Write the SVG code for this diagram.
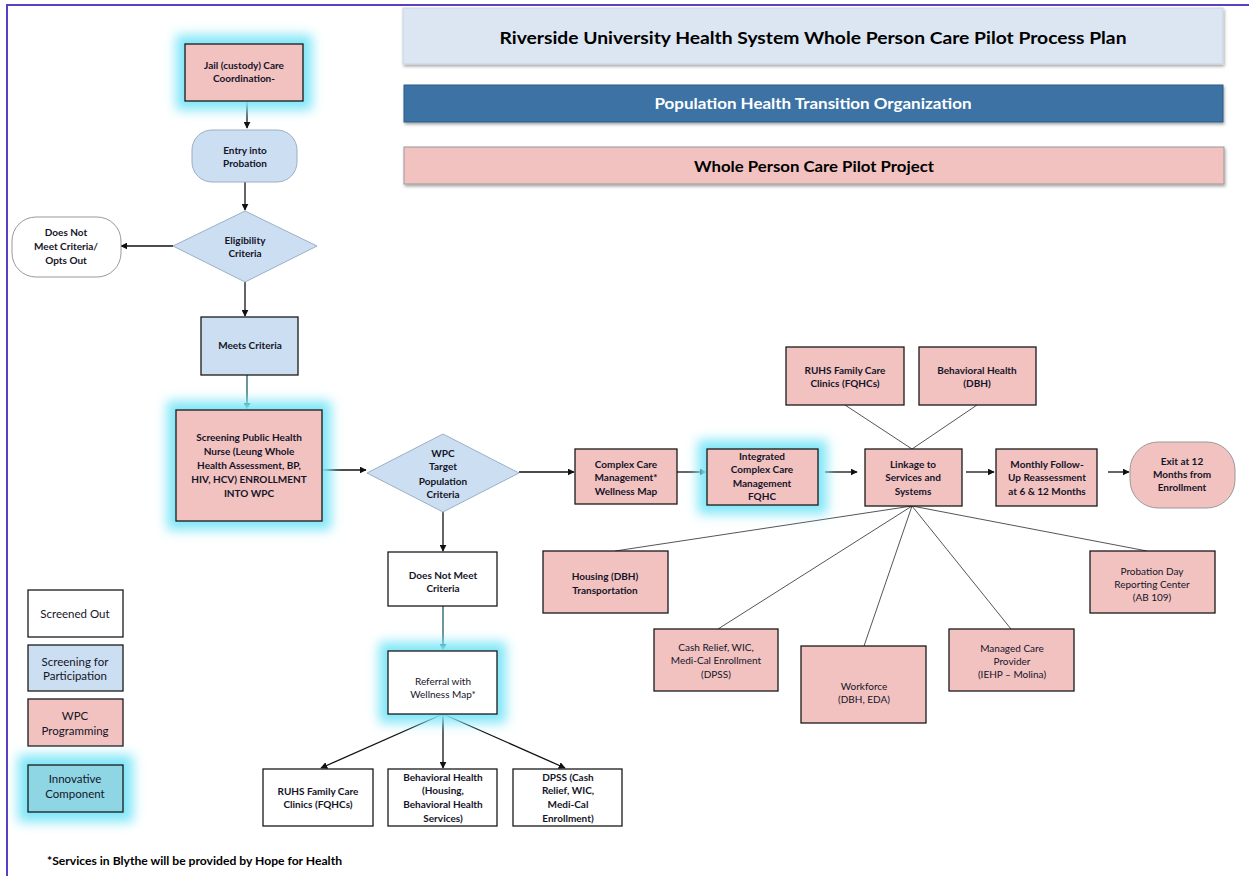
<svg xmlns="http://www.w3.org/2000/svg" width="1249" height="876" viewBox="0 0 1249 876">
<style>
.t{font-family:Lato,"Open Sans","Liberation Sans",sans-serif;font-size:10px;font-weight:bold;fill:#141428;text-anchor:middle}
.l{font-weight:normal}
.lg{font-size:11.5px;font-weight:normal}
.pk{fill:#F2C2C0;stroke:#1a1a1a;stroke-width:1.3}
.bl{fill:#CCDEF1;stroke:#1a1a1a;stroke-width:1.3}
.bd{fill:#CCDEF1;stroke:#9AAFC6;stroke-width:1}
.wh{fill:#fff;stroke:#1a1a1a;stroke-width:1.3}
.wr{fill:#fff;stroke:#999;stroke-width:1}
.tl{fill:#8FD6E4;stroke:#1a1a1a;stroke-width:1.3}
.gl{fill:#7FE6F7;filter:url(#blur)}
.c{stroke:#111;stroke-width:1.3;fill:none;marker-end:url(#ah)}
.ct{stroke:#1f5a66;stroke-width:1.3;fill:none;marker-end:url(#aht)}
.s{stroke:#555;stroke-width:1;fill:none}
</style>
<defs>
<filter id="blur" x="-40%" y="-40%" width="180%" height="180%"><feGaussianBlur stdDeviation="6"/></filter>
<filter id="sh" x="-5%" y="-20%" width="110%" height="160%"><feDropShadow dx="1" dy="2" stdDeviation="1.5" flood-color="#000" flood-opacity="0.35"/></filter>
<marker id="ah" viewBox="0 0 10 10" refX="9" refY="5" markerWidth="7" markerHeight="7" orient="auto" markerUnits="userSpaceOnUse"><path d="M0,0 L10,5 L0,10 z" fill="#111"/></marker>
<marker id="aht" viewBox="0 0 10 10" refX="9" refY="5" markerWidth="7" markerHeight="7" orient="auto" markerUnits="userSpaceOnUse"><path d="M0,0 L10,5 L0,10 z" fill="#1f5a66"/></marker>
</defs>
<rect width="1249" height="876" fill="#fff"/>
<path d="M7,876 V5 H1249" fill="none" stroke="#5a3fc0" stroke-width="2"/>

<g id="header-title"><rect x="403" y="8" width="820" height="56" fill="#DCE6F2" stroke="#C5D3E6" filter="url(#sh)"/><text x="813" y="44" class="t" style="font-size:17px;fill:#000" textLength="627" lengthAdjust="spacingAndGlyphs">Riverside University Health System Whole Person Care Pilot Process Plan</text></g>
<g id="header-pht"><rect x="404" y="85" width="819" height="37" fill="#3E72A5" stroke="#2f5b88" filter="url(#sh)"/><text x="813" y="109" class="t" style="font-size:15px;fill:#fff" textLength="317" lengthAdjust="spacingAndGlyphs">Population Health Transition Organization</text></g>
<g id="header-wpc"><rect x="404" y="147" width="820" height="37" fill="#F2C2C0" stroke="#999" filter="url(#sh)"/><text x="814" y="172" class="t" style="font-size:15px;fill:#000" textLength="240" lengthAdjust="spacingAndGlyphs">Whole Person Care Pilot Project</text></g>

<g id="connectors">
<line class="c" x1="247" y1="101" x2="247" y2="128"/>
<line class="c" x1="245" y1="182" x2="245" y2="210"/>
<line class="c" x1="173" y1="246" x2="121" y2="246"/>
<line class="c" x1="245" y1="282" x2="245" y2="316"/>
<line class="ct" x1="247" y1="375" x2="247" y2="409"/>
<line class="c" x1="322" y1="470" x2="366" y2="470"/>
<line class="c" x1="519" y1="472" x2="574" y2="472"/>
<line class="c" x1="677" y1="472" x2="706" y2="472"/>
<line class="c" x1="825" y1="472" x2="857" y2="472"/>
<line class="c" x1="966" y1="472" x2="994" y2="472"/>
<line class="c" x1="1108" y1="472" x2="1129" y2="472"/>
<line class="c" x1="443" y1="512" x2="443" y2="551"/>
<line class="ct" x1="443" y1="606" x2="443" y2="650"/>
<line class="c" x1="443" y1="714" x2="321" y2="768"/>
<line class="c" x1="443" y1="714" x2="443" y2="768"/>
<line class="c" x1="443" y1="714" x2="565" y2="768"/>
<line class="s" x1="845" y1="405" x2="912" y2="449"/>
<line class="s" x1="977" y1="405" x2="912" y2="449"/>
<line class="s" x1="912" y1="506" x2="615" y2="551"/>
<line class="s" x1="912" y1="506" x2="718" y2="629"/>
<line class="s" x1="912" y1="506" x2="864" y2="646"/>
<line class="s" x1="912" y1="506" x2="1011" y2="629"/>
<line class="s" x1="912" y1="506" x2="1147" y2="551"/>
</g>

<g id="n-jail"><rect class="gl" x="176" y="35" width="136" height="75"/><rect class="pk" x="185" y="44" width="118" height="57"/><text class="t" x="244" y="69">Jail (custody) Care</text><text class="t" x="244" y="82">Coordination-</text></g>
<g id="n-entry"><rect class="bd" x="192" y="130" width="105" height="52" rx="20"/><text class="t" x="245" y="154">Entry into</text><text class="t" x="245" y="167">Probation</text></g>
<g id="n-elig"><polygon class="bd" points="245,211 317,246 245,282 173,246"/><text class="t" x="245" y="244">Eligibility</text><text class="t" x="245" y="257">Criteria</text></g>
<g id="n-optout"><rect class="wr" x="12" y="217" width="109" height="60" rx="24"/><text class="t" x="66" y="236">Does Not</text><text class="t" x="66" y="250">Meet Criteria/</text><text class="t" x="66" y="264">Opts Out</text></g>
<g id="n-meets"><rect class="bl" x="201" y="317" width="97" height="58"/><text class="t" x="250" y="349">Meets Criteria</text></g>
<g id="n-screen"><rect class="gl" x="167" y="401" width="164" height="129"/><rect class="pk" x="176" y="410" width="146" height="111"/><text class="t" x="249" y="441">Screening Public Health</text><text class="t" x="249" y="455">Nurse (Leung Whole</text><text class="t" x="249" y="469">Health Assessment, BP,</text><text class="t" x="249" y="483">HIV, HCV) ENROLLMENT</text><text class="t" x="249" y="497">INTO WPC</text></g>
<g id="n-target"><polygon class="bd" points="443,434 519,473 443,512 367,473"/><text class="t" x="443" y="457">WPC</text><text class="t" x="443" y="470">Target</text><text class="t" x="443" y="485">Population</text><text class="t" x="443" y="498">Criteria</text></g>
<g id="n-ccm"><rect class="pk" x="575" y="449" width="102" height="55"/><text class="t" x="626" y="468">Complex Care</text><text class="t" x="626" y="481">Management*</text><text class="t" x="626" y="495">Wellness Map</text></g>
<g id="n-iccm"><rect class="gl" x="698" y="440" width="129" height="74"/><rect class="pk" x="707" y="449" width="111" height="56"/><text class="t" x="762" y="460">Integrated</text><text class="t" x="762" y="473">Complex Care</text><text class="t" x="762" y="487">Management</text><text class="t" x="762" y="500">FQHC</text></g>
<g id="n-link"><rect class="pk" x="865" y="449" width="97" height="57"/><text class="t" x="913" y="468">Linkage to</text><text class="t" x="913" y="481">Services and</text><text class="t" x="913" y="495">Systems</text></g>
<g id="n-monthly"><rect class="pk" x="996" y="449" width="101" height="57"/><text class="t" x="1047" y="468">Monthly Follow-</text><text class="t" x="1047" y="481">Up Reassessment</text><text class="t" x="1047" y="495">at 6 &amp; 12 Months</text></g>
<g id="n-exit"><rect x="1130" y="442" width="105" height="66" rx="28" fill="#F2C2C0" stroke="#999"/><text class="t" x="1182" y="465">Exit at 12</text><text class="t" x="1182" y="478">Months from</text><text class="t" x="1182" y="491">Enrollment</text></g>
<g id="n-ruhs-top"><rect class="pk" x="786" y="347" width="118" height="58"/><text class="t" x="845" y="374">RUHS Family Care</text><text class="t" x="845" y="387">Clinics (FQHCs)</text></g>
<g id="n-bh-top"><rect class="pk" x="919" y="347" width="117" height="58"/><text class="t" x="977" y="374">Behavioral Health</text><text class="t" x="977" y="387">(DBH)</text></g>
<g id="n-housing"><rect class="pk" x="543" y="551" width="125" height="62"/><text class="t" x="605" y="580">Housing (DBH)</text><text class="t" x="605" y="594">Transportation</text></g>
<g id="n-cash"><rect class="pk" x="654" y="629" width="124" height="62"/><text class="t l" x="716" y="651">Cash Relief, WIC,</text><text class="t l" x="716" y="664">Medi-Cal Enrollment</text><text class="t l" x="716" y="678">(DPSS)</text></g>
<g id="n-workforce"><rect class="pk" x="801" y="646" width="125" height="77"/><text class="t l" x="864" y="690">Workforce</text><text class="t l" x="864" y="703">(DBH, EDA)</text></g>
<g id="n-managed"><rect class="pk" x="949" y="629" width="125" height="62"/><text class="t l" x="1012" y="652">Managed Care</text><text class="t l" x="1012" y="665">Provider</text><text class="t l" x="1012" y="678">(IEHP – Molina)</text></g>
<g id="n-probation"><rect class="pk" x="1090" y="551" width="125" height="62"/><text class="t l" x="1152" y="575">Probation Day</text><text class="t l" x="1152" y="588">Reporting Center</text><text class="t l" x="1152" y="601">(AB 109)</text></g>
<g id="n-dnmc"><rect class="wh" x="388" y="552" width="109" height="54"/><text class="t" x="443" y="579">Does Not Meet</text><text class="t" x="443" y="592">Criteria</text></g>
<g id="n-referral"><rect class="gl" x="379" y="642" width="127" height="81"/><rect class="wh" x="388" y="651" width="109" height="63"/><text class="t l" x="443" y="685">Referral with</text><text class="t l" x="443" y="698">Wellness Map*</text></g>
<g id="n-ruhs-bot"><rect class="wh" x="263" y="769" width="110" height="57"/><text class="t" x="318" y="795">RUHS Family Care</text><text class="t" x="318" y="808">Clinics (FQHCs)</text></g>
<g id="n-bh-bot"><rect class="wh" x="388" y="769" width="109" height="57"/><text class="t" x="443" y="781">Behavioral Health</text><text class="t" x="443" y="794">(Housing,</text><text class="t" x="443" y="808">Behavioral Health</text><text class="t" x="443" y="822">Services)</text></g>
<g id="n-dpss-bot"><rect class="wh" x="513" y="769" width="109" height="57"/><text class="t" x="568" y="781">DPSS (Cash</text><text class="t" x="568" y="794">Relief, WIC,</text><text class="t" x="568" y="808">Medi-Cal</text><text class="t" x="568" y="822">Enrollment)</text></g>

<g id="legend-screened"><rect class="wh" x="28" y="590" width="95" height="47"/><text class="t lg" x="75" y="618">Screened Out</text></g>
<g id="legend-screening"><rect class="bl" x="28" y="645" width="95" height="46"/><text class="t lg" x="75" y="666">Screening for</text><text class="t lg" x="75" y="680">Participation</text></g>
<g id="legend-wpc"><rect class="pk" x="28" y="699" width="95" height="47"/><text class="t lg" x="75" y="720">WPC</text><text class="t lg" x="75" y="735">Programming</text></g>
<g id="legend-innov"><rect class="gl" x="18" y="755" width="115" height="67"/><rect class="tl" x="28" y="765" width="95" height="47"/><text class="t lg" x="75" y="783">Innovative</text><text class="t lg" x="75" y="798">Component</text></g>

<text class="t" x="47" y="865" style="text-anchor:start;font-size:11.5px;fill:#000" textLength="295" lengthAdjust="spacingAndGlyphs">*Services in Blythe will be provided by Hope for Health</text>
</svg>
